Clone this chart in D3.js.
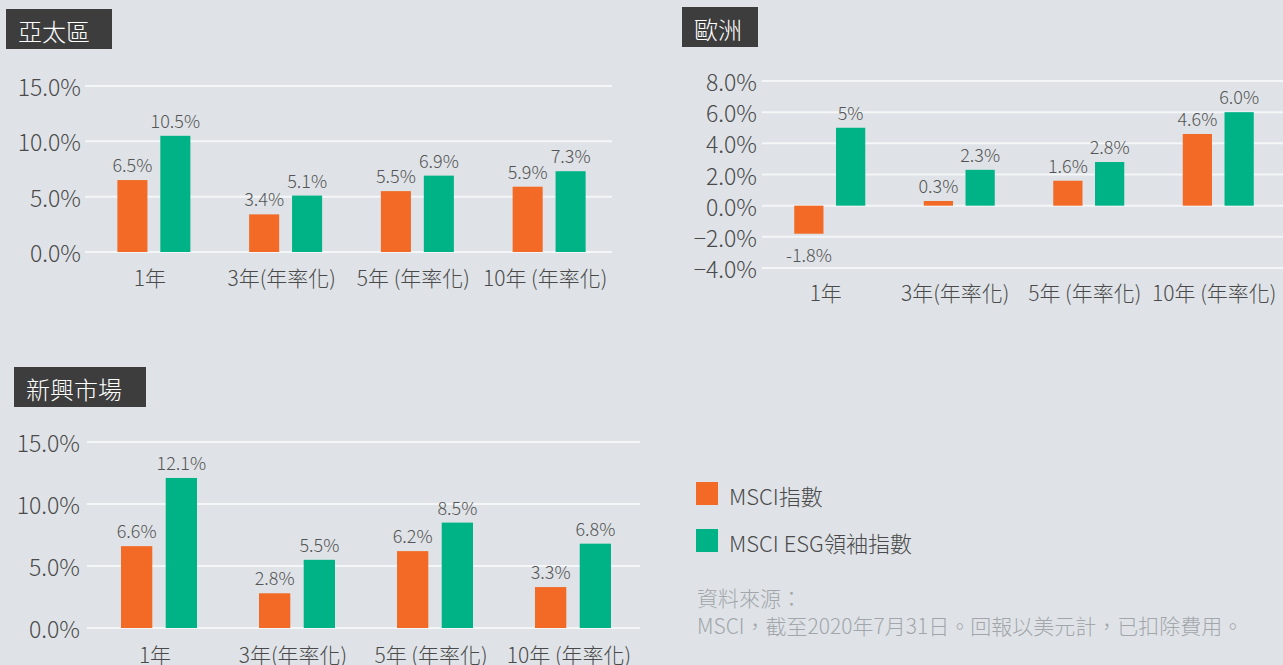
<!DOCTYPE html>
<html>
<head>
<meta charset="utf-8">
<script src="https://cdn.jsdelivr.net/npm/d3@7"></script>
<style>
  body { margin: 0; background: #dfe3e7; overflow: hidden; }
  text { font-family: "Noto Sans CJK TC", "Noto Sans", sans-serif; font-weight: 300; }
</style>
</head>
<body>
<script>
const categories = ["1年", "3年(年率化)", "5年 (年率化)", "10年 (年率化)"];
const seriesNames = ["MSCI指數", "MSCI ESG領袖指數"];
const colors = ["#f26a25", "#00b386"];

const asiaMsci = [6.5, 3.4, 5.5, 5.9];
const asiaEsg = [10.5, 5.1, 6.9, 7.3];
const asiaLabels = [["6.5%", "3.4%", "5.5%", "5.9%"], ["10.5%", "5.1%", "6.9%", "7.3%"]];
const asiaTicks = [0, 5, 10, 15];

const europeMsci = [-1.8, 0.3, 1.6, 4.6];
const europeEsg = [5.0, 2.3, 2.8, 6.0];
const europeLabels = [["-1.8%", "0.3%", "1.6%", "4.6%"], ["5%", "2.3%", "2.8%", "6.0%"]];
const europeTicks = [-4, -2, 0, 2, 4, 6, 8];

const emMsci = [6.6, 2.8, 6.2, 3.3];
const emEsg = [12.1, 5.5, 8.5, 6.8];
const emLabels = [["6.6%", "2.8%", "6.2%", "3.3%"], ["12.1%", "5.5%", "8.5%", "6.8%"]];
const emTicks = [0, 5, 10, 15];

const sourceLines = ["資料來源：", "MSCI，截至2020年7月31日。回報以美元計，已扣除費用。"];

const W = 1283, H = 665;
const svg = d3.select("body").append("svg").attr("width", W).attr("height", H);

// one panel: title box, grid, bars, labels
function drawPanel(p) {
  const g = svg.append("g");

  const title = g.append("g").attr("transform", `translate(${p.title[0]}, ${p.title[1]})`);
  title.append("rect")
    .attr("width", p.title[2]).attr("height", 40)
    .attr("fill", "#3d3d3d");
  title.append("text")
    .attr("x", 12).attr("y", 21)
    .attr("dominant-baseline", "central")
    .attr("fill", "#fff")
    .attr("font-size", 24)
    .text(p.name);

  const y = d3.scaleLinear().domain(p.domain).range(p.yRange);
  const x0 = d3.scaleBand().domain(categories).range(p.xRange).padding(0);
  const x1 = d3.scaleBand().domain([0, 1]).range([0, p.inner]).paddingInner(0.3);

  g.append("g")
    .selectAll("line")
    .data(p.ticks)
    .join("line")
    .attr("x1", p.grid[0]).attr("x2", p.grid[1])
    .attr("y1", d => y(d)).attr("y2", d => y(d))
    .attr("stroke", "#f4f6f8")
    .attr("stroke-width", 2);

  g.append("g")
    .selectAll("text")
    .data(p.ticks)
    .join("text")
    .attr("x", p.tickX)
    .attr("y", d => y(d))
    .attr("dominant-baseline", "central")
    .attr("text-anchor", "end")
    .attr("font-size", 23)
    .attr("fill", "#4a4a4a")
    .text(d => d3.format(".1f")(d) + "%");

  const rows = [];
  p.series.forEach((vals, s) => vals.forEach((v, i) => rows.push({ s, i, v, label: p.labels[s][i] })));
  const bx = d => x0(categories[d.i]) + x0.bandwidth() / 2 - p.inner / 2 + x1(d.s);

  g.append("g")
    .selectAll("rect")
    .data(rows)
    .join("rect")
    .attr("x", bx)
    .attr("y", d => y(Math.max(0, d.v)))
    .attr("width", x1.bandwidth())
    .attr("height", d => Math.abs(y(d.v) - y(0)))
    .attr("fill", d => colors[d.s]);

  g.append("g")
    .selectAll("text")
    .data(rows)
    .join("text")
    .attr("x", d => bx(d) + x1.bandwidth() / 2)
    .attr("y", d => d.v >= 0 ? y(d.v) - 8 : y(d.v) + 28)
    .attr("text-anchor", "middle")
    .attr("font-size", 18)
    .attr("fill", "#555")
    .text(d => d.label);

  g.append("g")
    .selectAll("text")
    .data(categories)
    .join("text")
    .attr("x", d => x0(d) + x0.bandwidth() / 2 - 4)
    .attr("y", p.catY)
    .attr("text-anchor", "middle")
    .attr("font-size", 21)
    .attr("fill", "#4a4a4a")
    .text(d => d);
}

drawPanel({
  name: "亞太區", title: [6, 9, 106],
  series: [asiaMsci, asiaEsg], labels: asiaLabels, ticks: asiaTicks,
  domain: [0, 15], yRange: [252, 86], xRange: [88, 615], inner: 73,
  grid: [85, 612], tickX: 81, catY: 286
});

drawPanel({
  name: "歐洲", title: [682, 7, 76],
  series: [europeMsci, europeEsg], labels: europeLabels, ticks: europeTicks,
  domain: [-4, 8], yRange: [268, 81], xRange: [765, 1283], inner: 71,
  grid: [762, 1283], tickX: 757, catY: 301
});

drawPanel({
  name: "新興市場", title: [14, 367, 132],
  series: [emMsci, emEsg], labels: emLabels, ticks: emTicks,
  domain: [0, 15], yRange: [628, 442], xRange: [90, 642], inner: 76,
  grid: [87, 640], tickX: 80, catY: 663
});

// legend
const legend = svg.append("g")
  .selectAll("g")
  .data(seriesNames)
  .join("g")
  .attr("transform", (d, i) => `translate(696, ${482 + i * 47})`);
legend.append("rect")
  .attr("width", 22).attr("height", 23)
  .attr("fill", (d, i) => colors[i]);
legend.append("text")
  .attr("x", 33).attr("y", 12.5)
  .attr("dominant-baseline", "central")
  .attr("font-size", 22)
  .attr("fill", "#4a4a4a")
  .text(d => d);

svg.append("g")
  .selectAll("text")
  .data(sourceLines)
  .join("text")
  .attr("x", 697)
  .attr("y", (d, i) => 597 + i * 28)
  .attr("dominant-baseline", "central")
  .attr("font-size", 21)
  .attr("fill", "#a2a6aa")
  .text(d => d);
</script>
</body>
</html>
